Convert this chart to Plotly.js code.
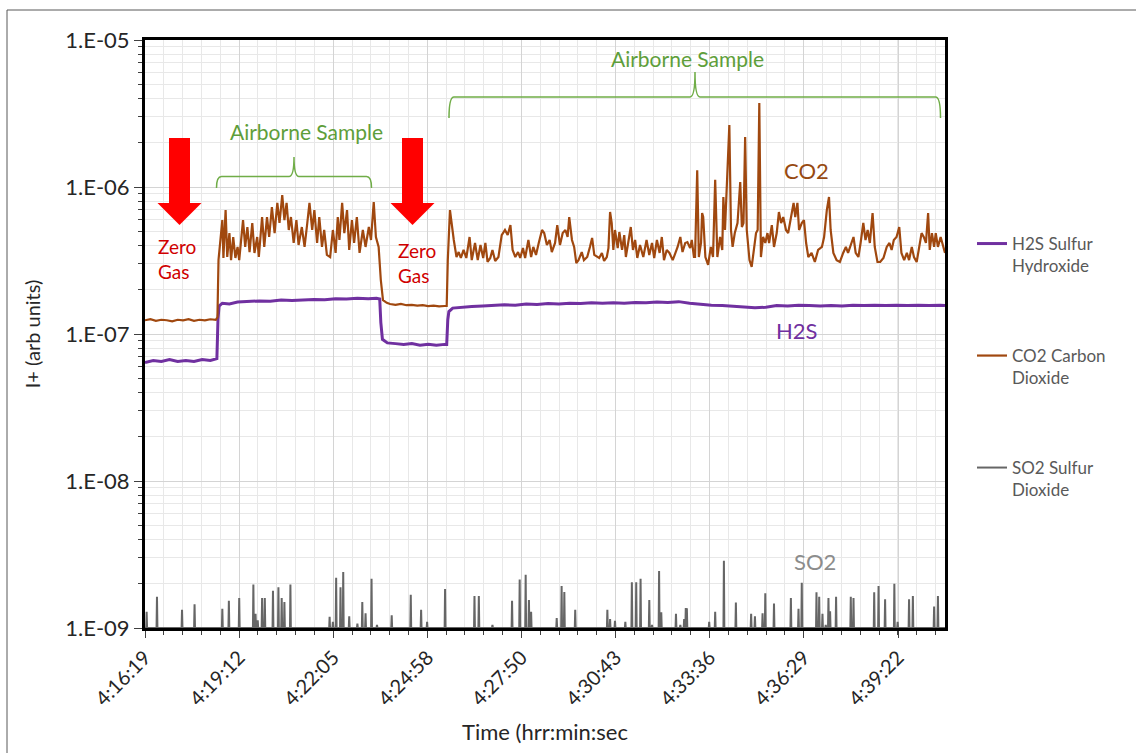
<!DOCTYPE html>
<html><head><meta charset="utf-8">
<script src="https://cdn.plot.ly/plotly-3.0.1.min.js"></script>
<style>html,body{margin:0;padding:0;background:#fff;} #chart{width:1136px;height:753px;}</style>
</head><body><div id="chart"></div>
<script>
// ---------- data ----------
const startTime = '4:16:19';          // time of elapsed second 0
const endSec = 1469;                   // last sample (elapsed seconds)
const xTickLabels = ['4:16:19','4:19:12','4:22:05','4:24:58','4:27:50','4:30:43','4:33:36','4:36:29','4:39:22'];
const yTickVals = [1e-9,1e-8,1e-7,1e-6,1e-5];
const yTickLabels = ['1.E-09','1.E-08','1.E-07','1.E-06','1.E-05'];
const seriesNames = ['H2S Sulfur<br>Hydroxide','CO2 Carbon<br>Dioxide','SO2 Sulfur<br>Dioxide'];

// H2S (elapsed seconds, ion current)
const h2sSec = [0,15,30,45,60,75,90,105,120,132,
  134,136,142,155,170,190,210,230,250,270,290,310,330,350,370,390,410,425,431,
  433,436,445,460,475,490,505,520,535,550,554,
  556,558,565,580,600,620,640,660,680,700,720,740,760,780,800,820,840,860,880,900,920,940,960,980,
  1000,1020,1040,1060,1080,1100,1120,1140,1160,1180,1200,1220,1240,1260,1280,1300,1320,1340,1360,1380,1400,1420,1440,1460,1469];
const h2sVal = [6.4e-8,6.6e-8,6.5e-8,6.7e-8,6.5e-8,6.6e-8,6.5e-8,6.7e-8,6.6e-8,6.8e-8,
  1.25e-7,1.55e-7,1.62e-7,1.6e-7,1.65e-7,1.66e-7,1.68e-7,1.67e-7,1.70e-7,1.69e-7,1.71e-7,1.72e-7,1.71e-7,1.74e-7,1.73e-7,1.75e-7,1.74e-7,1.75e-7,1.73e-7,
  1.2e-7,9.2e-8,8.7e-8,8.6e-8,8.5e-8,8.6e-8,8.4e-8,8.5e-8,8.4e-8,8.5e-8,8.5e-8,
  1.25e-7,1.42e-7,1.5e-7,1.52e-7,1.54e-7,1.55e-7,1.57e-7,1.58e-7,1.57e-7,1.6e-7,1.59e-7,1.61e-7,1.6e-7,1.62e-7,1.61e-7,1.63e-7,1.62e-7,1.63e-7,1.62e-7,1.64e-7,1.63e-7,1.65e-7,1.64e-7,1.66e-7,
  1.62e-7,1.59e-7,1.57e-7,1.56e-7,1.54e-7,1.53e-7,1.51e-7,1.52e-7,1.56e-7,1.55e-7,1.57e-7,1.56e-7,1.55e-7,1.56e-7,1.55e-7,1.57e-7,1.56e-7,1.57e-7,1.56e-7,1.57e-7,1.56e-7,1.57e-7,1.56e-7,1.57e-7,1.56e-7];

// CO2
const co2Sec = [0,10,20,30,40,50,60,70,80,90,100,110,120,130,133,
  135,142,144,148,151,155,158,162,166,170,173,180,184,188,192,197,201,206,209,215,219,224,228,233,238,243,247,252,256,260,264,268,273,278,282,288,293,298,302,307,311,316,320,325,329,334,340,345,350,354,357,362,366,371,375,380,384,389,394,400,405,411,415,420,424,429,433,437,444,
  450,460,470,480,490,500,510,520,530,540,550,554,
  556,560,567,572,576,580,585,590,596,600,606,611,616,621,625,629,634,638,643,649,655,661,666,671,675,680,685,689,694,698,704,709,713,718,723,729,733,738,743,747,753,757,762,767,772,776,779,784,788,792,796,802,806,812,817,821,825,830,834,839,843,848,851,854,857,860,863,868,871,876,880,883,888,892,896,900,904,909,915,921,926,931,935,940,945,949,953,958,963,969,974,978,983,987,992,996,
  1001,1004,1008,1010,1014,1017,1021,1023,1025,1029,1034,1039,1043,1047,1051,1056,1060,1062,1065,1069,1073,1076,1079,1083,1088,1093,1096,1099,1102,1105,1110,1114,1118,1122,1125,1128,1131,1135,1139,1143,1146,1151,1155,1160,1164,1168,1172,1177,1181,1186,1191,1194,1198,
  1201,1206,1210,1214,1218,1224,1230,1236,1243,1247,1252,1256,1259,1264,1270,1276,1282,1287,1291,1296,1301,1305,1310,1314,1319,1323,1327,1331,1336,1340,1345,1350,1356,1362,1367,1371,1375,1380,1385,1389,1394,1399,
  1403,1408,1412,1417,1422,1426,1430,1434,1438,1441,1445,1449,1452,1456,1461,1466,1469];
const co2Val = [1.24e-7,1.26e-7,1.23e-7,1.25e-7,1.24e-7,1.22e-7,1.25e-7,1.24e-7,1.26e-7,1.23e-7,1.25e-7,1.24e-7,1.26e-7,1.25e-7,1.3e-7,
  3.2e-7,5.96e-7,3.29e-7,6.97e-7,3.34e-7,4.86e-7,3.18e-7,4.57e-7,3.29e-7,3.91e-7,3.18e-7,5.96e-7,3.91e-7,5.34e-7,3.61e-7,5.69e-7,3.56e-7,4.57e-7,3.34e-7,6.25e-7,3.91e-7,6.25e-7,4.57e-7,7.3e-7,4.86e-7,7.8e-7,5.69e-7,8.8e-7,5.96e-7,7.8e-7,5.1e-7,6.25e-7,4.16e-7,5.96e-7,4.03e-7,5.34e-7,3.91e-7,5.69e-7,7.8e-7,5.1e-7,6.97e-7,4.16e-7,6.25e-7,3.91e-7,5.1e-7,3.45e-7,3.34e-7,5.1e-7,3.56e-7,6.25e-7,4.36e-7,7.8e-7,4.86e-7,6.97e-7,3.73e-7,5.96e-7,4.16e-7,6.25e-7,3.56e-7,5.1e-7,3.91e-7,5.34e-7,4.36e-7,7.9e-7,4.57e-7,3.91e-7,2.33e-7,1.7e-7,1.63e-7,
  1.6e-7,1.58e-7,1.6e-7,1.57e-7,1.58e-7,1.56e-7,1.57e-7,1.55e-7,1.56e-7,1.54e-7,1.55e-7,1.55e-7,
  3.18e-7,6.97e-7,4.36e-7,3.34e-7,3.61e-7,3.29e-7,3.73e-7,3.29e-7,4.57e-7,3.18e-7,4.16e-7,3.18e-7,4.03e-7,3.29e-7,4.16e-7,3.09e-7,3.29e-7,3.73e-7,3.14e-7,3.34e-7,4.71e-7,5.1e-7,4.71e-7,5.51e-7,3.73e-7,3.34e-7,3.61e-7,3.29e-7,3.84e-7,3.29e-7,4.36e-7,3.34e-7,3.91e-7,3.45e-7,4.16e-7,5.1e-7,4.86e-7,4.03e-7,4.36e-7,3.61e-7,4.16e-7,5.51e-7,4.03e-7,4.86e-7,5.1e-7,4.57e-7,6.25e-7,4.36e-7,3.91e-7,3.04e-7,3.18e-7,3.61e-7,3.18e-7,3.34e-7,3.91e-7,4.5e-7,3.45e-7,3.34e-7,3.29e-7,3.56e-7,3.14e-7,3.34e-7,3.84e-7,6.76e-7,5.69e-7,3.73e-7,5.1e-7,3.84e-7,4.94e-7,3.73e-7,4.71e-7,3.34e-7,4.36e-7,5.34e-7,3.73e-7,4.36e-7,3.29e-7,4.03e-7,3.34e-7,4.36e-7,3.45e-7,4.16e-7,3.29e-7,4.36e-7,3.56e-7,4.57e-7,3.18e-7,3.73e-7,3.56e-7,3.18e-7,3.56e-7,3.91e-7,4.57e-7,3.61e-7,4.16e-7,4.22e-7,
  3.84e-7,4.36e-7,3.34e-7,3.34e-7,1.3e-6,3.34e-7,4.16e-7,6.65e-7,6.25e-7,3.34e-7,2.95e-7,3.91e-7,3.34e-7,1.12e-6,3.34e-7,4.57e-7,3.73e-7,8.55e-7,5.1e-7,1.17e-6,2.64e-6,5.1e-7,3.91e-7,4.86e-7,5.69e-7,1.08e-6,5.34e-7,5.69e-7,2.19e-6,5.1e-7,3.18e-7,2.86e-7,3.73e-7,4.86e-7,5.1e-7,3.73e-6,3.34e-7,4.57e-7,4.16e-7,4.86e-7,4.16e-7,5.51e-7,3.91e-7,4.86e-7,6.76e-7,5.69e-7,6.25e-7,5.1e-7,4.86e-7,6.25e-7,7.8e-7,6.25e-7,7.8e-7,
  5.1e-7,5.69e-7,5.96e-7,4.16e-7,3.34e-7,3.56e-7,3.09e-7,3.73e-7,3.91e-7,4.57e-7,6.97e-7,8.55e-7,5.1e-7,3.56e-7,3.18e-7,3.09e-7,3.56e-7,3.91e-7,3.56e-7,4.03e-7,4.57e-7,3.56e-7,3.34e-7,4.16e-7,5.69e-7,4.36e-7,5.1e-7,4.16e-7,6.65e-7,3.91e-7,3.09e-7,3.09e-7,3.29e-7,3.91e-7,4.16e-7,3.73e-7,4.36e-7,4.57e-7,5.34e-7,3.56e-7,3.18e-7,3.56e-7,
  3.18e-7,3.91e-7,3.34e-7,3.09e-7,3.91e-7,4.86e-7,4.57e-7,4.16e-7,6.65e-7,3.73e-7,4.86e-7,3.91e-7,4.86e-7,3.91e-7,4.57e-7,3.91e-7,3.56e-7];

// SO2 spikes (elapsed seconds, peak current); between spikes the signal sits at the axis floor
const so2Floor = 1e-9;
const so2Sec = [3,22,68,91,142,154,173,199,203,207,215,220,235,245,251,256,267,339,345,351,359,364,375,390,399,405,416,426,453,488,507,518,551,605,613,638,674,688,699,705,709,756,765,770,790,849,854,863,882,894,902,910,926,931,944,948,975,983,990,993,995,1036,1047,1063,1085,1113,1120,1134,1139,1155,1186,1200,1206,1233,1238,1244,1250,1255,1258,1269,1296,1301,1339,1347,1359,1376,1382,1403,1410,1449,1456];
const so2Val = [1.29e-9,1.63e-9,1.33e-9,1.45e-9,1.35e-9,1.53e-9,1.6e-9,1.98e-9,1.25e-9,1.13e-9,1.6e-9,1.6e-9,1.79e-9,1.89e-9,1.6e-9,1.5e-9,1.98e-9,1.19e-9,1.1e-9,2.2e-9,1.89e-9,2.4e-9,1.2e-9,1.07e-9,1.5e-9,1.26e-9,2.16e-9,1.05e-9,1.22e-9,1.68e-9,1.33e-9,1.1e-9,1.84e-9,1.65e-9,1.65e-9,1.05e-9,1.53e-9,2.14e-9,2.3e-9,1.55e-9,1.29e-9,1.17e-9,1.93e-9,1.76e-9,1.33e-9,1.33e-9,1.15e-9,1.12e-9,1.1e-9,2.05e-9,2.05e-9,2.16e-9,1.55e-9,1.05e-9,2.44e-9,1.28e-9,1.25e-9,1.05e-9,1.15e-9,1.37e-9,1.36e-9,1.1e-9,1.29e-9,2.87e-9,1.49e-9,1.25e-9,1.2e-9,1.26e-9,1.72e-9,1.47e-9,1.6e-9,1.35e-9,2.03e-9,1.75e-9,1.63e-9,1.25e-9,1.05e-9,1.6e-9,1.3e-9,1.63e-9,1.63e-9,1.6e-9,1.75e-9,1.93e-9,1.57e-9,2.0e-9,1.1e-9,1.57e-9,1.65e-9,1.4e-9,1.65e-9];

// ---------- helpers ----------
const colors = {h2s:'#7030A0', co2:'#A0480F', so2:'#666666'};
const FONT = 'Lato, "Open Sans", "Noto Sans", sans-serif';
const [sh, sm, ss] = startTime.split(':').map(Number);
const t0 = Date.UTC(2000,0,1,sh,sm,ss);
function fmt(ms){ return new Date(ms).toISOString().slice(0,23).replace('T',' '); }
function toDate(sec){ return fmt(t0 + Math.round(sec*1000)); }
function labelToDate(lbl){ const p = lbl.split(':').map(Number); return fmt(Date.UTC(2000,0,1,p[0],p[1],p[2])); }

if (co2Sec.length !== co2Val.length || h2sSec.length !== h2sVal.length || so2Sec.length !== so2Val.length) {
  console.error('length mismatch', co2Sec.length, co2Val.length, h2sSec.length, h2sVal.length, so2Sec.length, so2Val.length);
}

// SO2 drawn as thin spikes rising from the floor
const so2X = [toDate(0)], so2Y = [so2Floor];
so2Sec.forEach((s,i)=>{
  so2X.push(toDate(s-0.8), toDate(s), toDate(s+0.8));
  so2Y.push(so2Floor, so2Val[i], so2Floor);
});
so2X.push(toDate(endSec)); so2Y.push(so2Floor);

const traces = [
  {x: h2sSec.map(toDate), y: h2sVal, type:'scatter', mode:'lines', name: seriesNames[0],
   line:{color:colors.h2s, width:3}, legend:'legend'},
  {x: co2Sec.map(toDate), y: co2Val, type:'scatter', mode:'lines', name: seriesNames[1],
   line:{color:colors.co2, width:2.2}, legend:'legend2'},
  {x: so2X, y: so2Y, type:'scatter', mode:'lines', name: seriesNames[2],
   line:{color:colors.so2, width:2}, legend:'legend3'}
];

// minor log ticks 2..9 per decade
const minorY = [];
for (let d=-9; d<-5; d++) for (let k=2; k<10; k++) minorY.push(k*Math.pow(10,d));

// pixel-ish helpers for decorations (paper coordinates)
const L=145, R=945, T=40, B=628;
const px = v => (v-L)/(R-L);
const py = v => (B-v)/(B-T);

function arrowPath(cx){
  const sw=10.5, hw=22, top=138, neck=203, tip=225;
  return `M ${px(cx-sw)},${py(top)} L ${px(cx+sw)},${py(top)} L ${px(cx+sw)},${py(neck)} L ${px(cx+hw)},${py(neck)} L ${px(cx)},${py(tip)} L ${px(cx-hw)},${py(neck)} L ${px(cx-sw)},${py(neck)} Z`;
}
function bracePath(x1, x2, xm, yb, yh, yt){
  const r=5;
  return `M ${px(x1)},${py(yb)} Q ${px(x1)},${py(yh)} ${px(x1+r)},${py(yh)} L ${px(xm-r)},${py(yh)} Q ${px(xm)},${py(yh)} ${px(xm)},${py(yt)} Q ${px(xm)},${py(yh)} ${px(xm+r)},${py(yh)} L ${px(x2-r)},${py(yh)} Q ${px(x2)},${py(yh)} ${px(x2)},${py(yb)}`;
}

const shapes = [
  {type:'rect', xref:'paper', yref:'paper', x0:px(7), x1:px(1140), y0:py(10), y1:py(760), line:{color:'#595959', width:1}, layer:'below'},
  {type:'path', xref:'paper', yref:'paper', path: arrowPath(179.5), fillcolor:'#FF0000', line:{width:0}},
  {type:'path', xref:'paper', yref:'paper', path: arrowPath(412.5), fillcolor:'#FF0000', line:{width:0}},
  {type:'path', xref:'paper', yref:'paper', path: bracePath(216.5, 371.5, 294, 188, 176.5, 157), line:{color:'#70AD47', width:1.5}},
  {type:'path', xref:'paper', yref:'paper', path: bracePath(449, 940.5, 695, 118, 97, 72), line:{color:'#70AD47', width:1.5}}
];

function note(x, y, text, size, color, xanchor){
  return {xref:'paper', yref:'paper', x:px(x), y:py(y), text:text, showarrow:false,
    xanchor: xanchor || 'center', yanchor:'middle', align: xanchor==='left' ? 'left' : 'center',
    font:{family:FONT, size:size, color:color}};
}
const annotations = [
  note(306, 132, 'Airborne Sample', 21, '#5E9E3A'),
  note(687, 58, 'Airborne Sample', 21, '#5E9E3A'),
  note(156, 259, 'Zero<br>Gas', 19, '#D00000', 'left'),
  note(396, 263, 'Zero<br>Gas', 19, '#D00000', 'left'),
  note(806, 170, 'CO2', 22, '#974A12'),
  note(797, 330, 'H2S', 22, '#7030A0'),
  note(815, 561, 'SO2', 22, '#8C8C8C')
];

const legendBase = {xref:'paper', yref:'paper', x:px(972), xanchor:'left', yanchor:'middle', valign:'top',
  bgcolor:'rgba(0,0,0,0)', font:{family:FONT, size:17, color:'#595959'}, itemwidth:30};

const layout = {
  width:1136, height:753,
  margin:{l:L, r:1136-R, t:T, b:753-B},
  paper_bgcolor:'#FFFFFF', plot_bgcolor:'#FFFFFF',
  font:{family:FONT, size:17, color:'#262626'},
  showlegend:true,
  legend: Object.assign({}, legendBase, {y:py(255)}),
  legend2: Object.assign({}, legendBase, {y:py(367)}),
  legend3: Object.assign({}, legendBase, {y:py(479)}),
  xaxis:{
    type:'date', range:[toDate(0), toDate(endSec)],
    tickmode:'array', tickvals: xTickLabels.map(labelToDate), ticktext: xTickLabels,
    tickangle:-45, tickfont:{family:FONT, size:20, color:'#262626'},
    ticks:'outside', ticklen:7, tickwidth:1, tickcolor:'#404040',
    showgrid:true, gridcolor:'#D4D4D4', gridwidth:1,
    minor:{tick0: toDate(0), dtick: 34560, ticks:'outside', ticklen:4, tickcolor:'#404040', showgrid:true, gridcolor:'#E8E8E8'},
    showline:true, linecolor:'#000000', linewidth:3, mirror:true, zeroline:false,
    title:{text:'Time (hrr:min:sec', font:{family:FONT, size:22, color:'#262626'}, standoff:16}
  },
  yaxis:{
    type:'log', range:[-9,-5],
    tickmode:'array', tickvals:yTickVals, ticktext:yTickLabels,
    tickfont:{family:FONT, size:22, color:'#262626'},
    ticks:'outside', ticklen:8, tickwidth:1, tickcolor:'#404040',
    showgrid:true, gridcolor:'#D4D4D4', gridwidth:1,
    minor:{tickvals:minorY, ticks:'outside', ticklen:4, tickcolor:'#404040', showgrid:true, gridcolor:'#E8E8E8'},
    showline:true, linecolor:'#000000', linewidth:3, mirror:true, zeroline:false,
    title:{text:'I+ (arb units)', font:{family:FONT, size:20, color:'#262626'}, standoff:20}
  },
  shapes: shapes,
  annotations: annotations
};

Plotly.newPlot('chart', traces, layout, {displayModeBar:false, staticPlot:true});
</script>
</body></html>
